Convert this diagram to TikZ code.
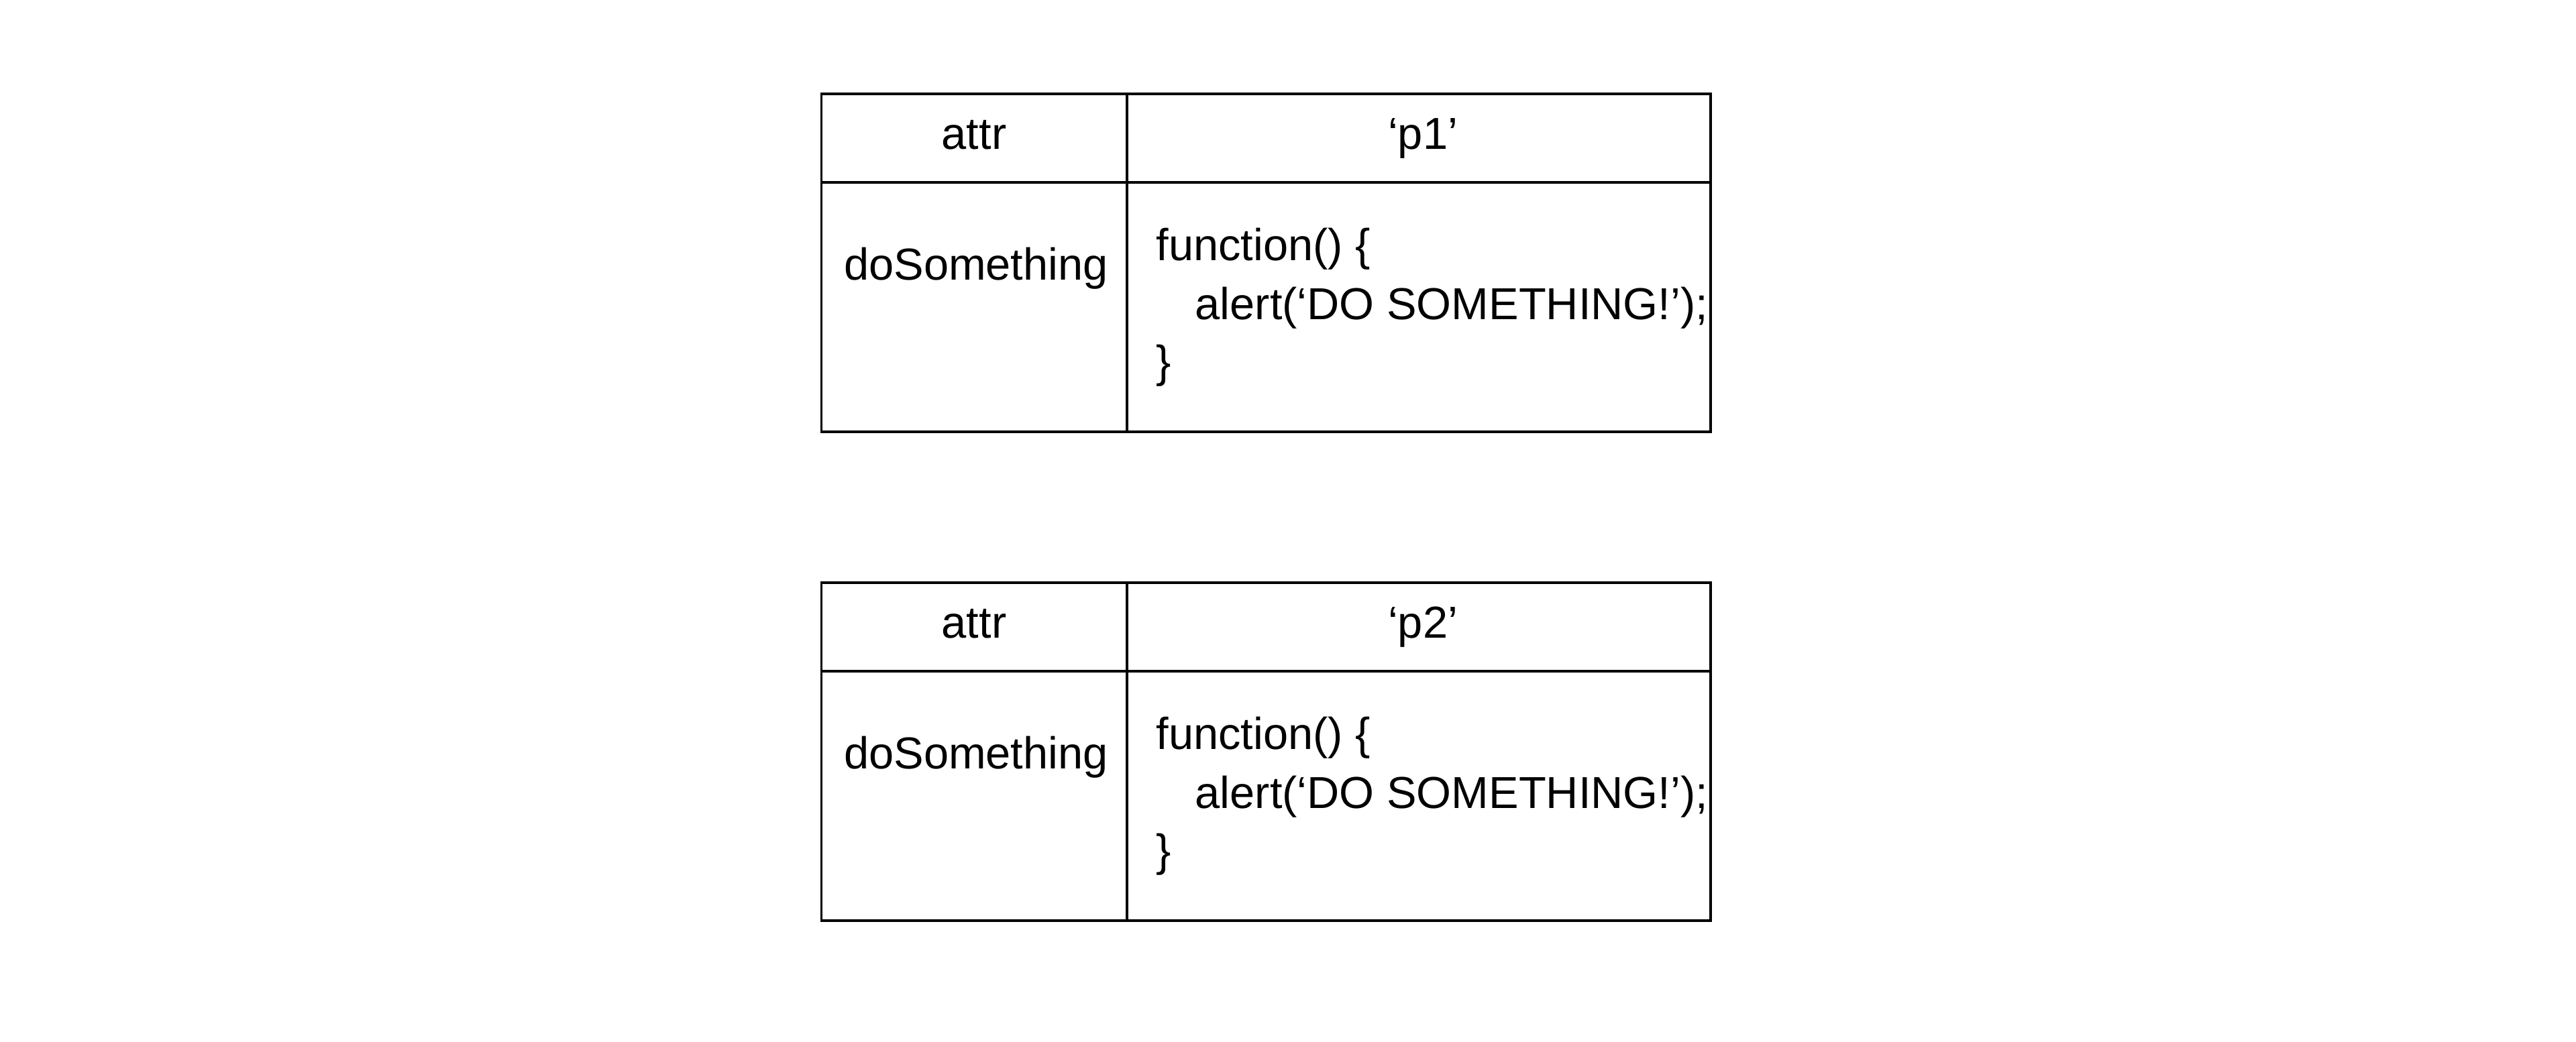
\documentclass[tikz,border=0pt]{standalone}
\usepackage{fontspec}
\setmainfont{Liberation Sans}
\begin{document}
\begin{tikzpicture}[line width=1pt,
  txt/.style={inner sep=0pt,font=\fontsize{19}{25}\selectfont}]
\useasboundingbox (0,0) rectangle (38.4,15.54);

\foreach \k/\y in {1/14.14,2/6.85}{
\draw (12.245,\y) rectangle (25.50,\y-5.04);
\draw (12.245,\y-1.32) -- (25.50,\y-1.32);
\draw (16.80,\y) -- (16.80,\y-5.04);

\node[txt,anchor=base] (attr\k) at (14.52,\y-0.83) {attr};
\node[txt,anchor=base] (name\k) at (21.21,\y-0.83) {‘p\k’};
\node[txt,anchor=base] (key\k) at (14.55,\y-2.78) {doSomething};
\node[txt,anchor=base west] (fn\k) at (17.22,\y-2.49) {function() \{};
\node[txt,anchor=base west] (alert\k) at (17.80,\y-3.37) {alert(‘DO SOMETHING!’);};
\node[txt,anchor=base west] (close\k) at (17.22,\y-4.23) {\}};
}
\end{tikzpicture}
\end{document}
